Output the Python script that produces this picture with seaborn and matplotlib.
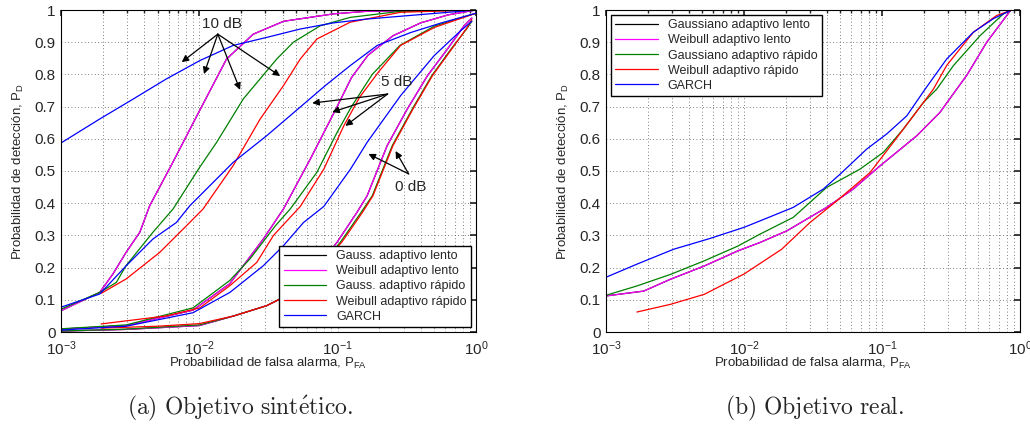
"""ROC curves: synthetic target (a) vs real target (b)"""

import numpy as np, pandas as pd
import matplotlib
matplotlib.use("Agg")
import matplotlib.pyplot as plt
from matplotlib.ticker import LogLocator, NullFormatter
import seaborn as sns

sns.set_theme(style="white")
plt.rcParams['font.family'] = ['Liberation Sans', 'DejaVu Sans']
plt.rcParams['mathtext.default'] = 'regular'

methods_a = ['Gauss. adaptivo lento', 'Weibull adaptivo lento', 'Gauss. adaptivo rápido',
             'Weibull adaptivo rápido', 'GARCH']
methods_b = ['Gaussiano adaptivo lento', 'Weibull adaptivo lento', 'Gaussiano adaptivo rápido',
             'Weibull adaptivo rápido', 'GARCH']
colors = ['#000000', '#ff00ff', '#008000', '#ff0000', '#0000ff']
yticklabels = ['0', '0.1', '0.2', '0.3', '0.4', '0.5', '0.6', '0.7', '0.8', '0.9', '1']

# (a) synthetic target -- log10(Pfa) and Pd, per SNR
lento_10_x = [-3, -2.72, -2.625, -2.53, -2.43, -2.359, -2.2, -2.0, -1.803, -1.61, -1.39, -1.03, -0.79, 0]
lento_10_y = [0.066, 0.123, 0.18, 0.247, 0.31, 0.392, 0.52, 0.686, 0.848, 0.925, 0.965, 0.988, 0.996, 1.0]
gr_10_x = [-3, -2.72, -2.6, -2.53, -2.335, -2.19, -2.0, -1.875, -1.682, -1.44, -1.32, -1.126, -0.91, -0.545, 0]
gr_10_y = [0.071, 0.123, 0.154, 0.206, 0.31, 0.382, 0.51, 0.589, 0.724, 0.848, 0.9, 0.951, 0.977, 0.996, 1.0]
wr_10_x = [-2.71, -2.528, -2.287, -2.093, -1.973, -1.755, -1.561, -1.392, -1.27, -1.15, -0.91, -0.545, 0]
wr_10_y = [0.12, 0.165, 0.247, 0.33, 0.382, 0.517, 0.661, 0.765, 0.848, 0.91, 0.962, 0.993, 1.0]
garch_10_x = [-3, -2.722, -2.48, -2.238, -1.996, -1.755, -1.512, -1.27, -1.03, -0.787, 0]
garch_10_y = [0.587, 0.661, 0.723, 0.786, 0.843, 0.89, 0.915, 0.941, 0.96, 0.972, 1.0]

lento_5_x = [-3, -2.528, -2.045, -1.78, -1.537, -1.392, -1.198, -1.004, -0.9, -0.78, -0.6, -0.4, -0.2, 0]
lento_5_y = [0.009, 0.02, 0.068, 0.15, 0.289, 0.382, 0.537, 0.70, 0.79, 0.86, 0.92, 0.96, 0.985, 1.0]
gr_5_x = [-3, -2.528, -2.045, -1.78, -1.634, -1.45, -1.343, -1.15, -1.004, -0.9, -0.75, -0.55, -0.3, 0]
gr_5_y = [0.01, 0.022, 0.075, 0.16, 0.227, 0.33, 0.382, 0.496, 0.62, 0.7, 0.8, 0.89, 0.95, 0.99]
wr_5_x = [-2.71, -2.238, -1.996, -1.779, -1.585, -1.464, -1.27, -1.1, -0.956, -0.84, -0.7, -0.545, -0.3, 0]
wr_5_y = [0.025, 0.05, 0.075, 0.144, 0.216, 0.3, 0.39, 0.506, 0.64, 0.73, 0.81, 0.89, 0.946, 0.99]
garch_5_x = [-3, -2.72, -2.528, -2.335, -2.166, -2.069, -1.755, -1.512, -1.343, -1.09, -0.91, -0.714, -0.472, -0.25, 0]
garch_5_y = [0.077, 0.118, 0.206, 0.289, 0.34, 0.392, 0.527, 0.61, 0.672, 0.765, 0.827, 0.89, 0.93, 0.96, 0.99]

lento_0_x = [-3, -2.528, -2.0, -1.75, -1.512, -1.392, -1.2, -1.004, -0.86, -0.787, -0.642, -0.496, -0.351, -0.206, -0.086, -0.03]
lento_0_y = [0.003, 0.008, 0.02, 0.05, 0.082, 0.108, 0.17, 0.279, 0.372, 0.423, 0.579, 0.693, 0.796, 0.879, 0.951, 0.975]
gr_0_x = [-3, -2.528, -2.0, -1.75, -1.512, -1.392, -1.2, -0.98, -0.83, -0.75, -0.605, -0.46, -0.32, -0.18, -0.07, -0.03]
gr_0_y = [0.003, 0.009, 0.022, 0.05, 0.082, 0.108, 0.17, 0.279, 0.372, 0.423, 0.579, 0.693, 0.796, 0.879, 0.94, 0.965]
wr_0_x = [-2.71, -2.3, -2.0, -1.75, -1.512, -1.392, -1.2, -0.97, -0.82, -0.745, -0.6, -0.455, -0.315, -0.175, -0.065, -0.03]
wr_0_y = [0.012, 0.018, 0.026, 0.05, 0.082, 0.108, 0.17, 0.279, 0.372, 0.423, 0.579, 0.693, 0.796, 0.879, 0.945, 0.97]
garch_0_x = [-3, -2.528, -2.045, -1.779, -1.537, -1.392, -1.247, -1.1, -0.907, -0.787, -0.545, -0.303, -0.11, -0.03]
garch_0_y = [0.006, 0.018, 0.06, 0.123, 0.206, 0.268, 0.34, 0.39, 0.506, 0.589, 0.734, 0.858, 0.936, 0.965]

# (b) real target
gl_b_x = [-3, -2.727, -2.532, -2.288, -2.044, -1.884, -1.69, -1.401, -1.208, -1.014, -0.749, -0.58, -0.459, -0.386, -0.241, -0.096, -0.07]
gl_b_y = [0.112, 0.127, 0.164, 0.205, 0.252, 0.278, 0.314, 0.387, 0.444, 0.516, 0.609, 0.682, 0.754, 0.797, 0.9, 0.983, 0.998]
gr_b_x = [-3, -2.776, -2.532, -2.288, -2.044, -1.884, -1.643, -1.401, -1.159, -0.99, -0.846, -0.7, -0.604, -0.483, -0.29, -0.121, -0.07]
gr_b_y = [0.114, 0.143, 0.179, 0.221, 0.267, 0.304, 0.356, 0.449, 0.506, 0.558, 0.63, 0.713, 0.754, 0.827, 0.92, 0.988, 0.998]
wr_b_x = [-2.776, -2.532, -2.288, -2.0, -1.727, -1.522, -1.328, -1.087, -0.918, -0.773, -0.628, -0.531, -0.338, -0.169, -0.07]
wr_b_y = [0.062, 0.086, 0.117, 0.18, 0.257, 0.34, 0.407, 0.495, 0.589, 0.671, 0.754, 0.828, 0.931, 0.983, 0.998]
garch_b_x = [-3, -2.78, -2.51, -2.25, -2.0, -1.884, -1.643, -1.425, -1.304, -1.111, -0.966, -0.821, -0.688, -0.531, -0.338, -0.193, -0.072]
garch_b_y = [0.17, 0.21, 0.257, 0.29, 0.325, 0.345, 0.387, 0.444, 0.49, 0.568, 0.615, 0.671, 0.754, 0.848, 0.931, 0.973, 0.998]

curves_a = {
    '10': [(lento_10_x, lento_10_y), (lento_10_x, lento_10_y), (gr_10_x, gr_10_y), (wr_10_x, wr_10_y), (garch_10_x, garch_10_y)],
    '5': [(lento_5_x, lento_5_y), (lento_5_x, lento_5_y), (gr_5_x, gr_5_y), (wr_5_x, wr_5_y), (garch_5_x, garch_5_y)],
    '0': [(lento_0_x, lento_0_y), (lento_0_x, lento_0_y), (gr_0_x, gr_0_y), (wr_0_x, wr_0_y), (garch_0_x, garch_0_y)],
}
curves_b = [(gl_b_x, gl_b_y), (gl_b_x, gl_b_y), (gr_b_x, gr_b_y), (wr_b_x, wr_b_y), (garch_b_x, garch_b_y)]


def to_frame(groups, names):
    rows = []
    for snr, lst in groups.items():
        for name, (lx, ly) in zip(names, lst):
            for a, b in zip(lx, ly):
                rows.append((name, snr, 10.0 ** a, b))
    return pd.DataFrame(rows, columns=['method', 'snr', 'pfa', 'pd'])


df_a = to_frame(curves_a, methods_a)
df_b = to_frame({'real': curves_b}, methods_b)

fig = plt.figure(figsize=(10.3, 4.36), dpi=100)
ax_a = fig.add_axes([61 / 1030, 104 / 436, 415 / 1030, 322 / 436])
ax_b = fig.add_axes([606 / 1030, 104 / 436, 414 / 1030, 322 / 436])

for ax, df, names in [(ax_a, df_a, methods_a), (ax_b, df_b, methods_b)]:
    sns.lineplot(data=df, x='pfa', y='pd', hue='method', units='snr', estimator=None,
                 hue_order=names, palette=dict(zip(names, colors)), lw=0.9, ax=ax)
    ax.set_xscale('log')
    ax.set_xlim(1e-3, 1)
    ax.set_ylim(0, 1)
    ax.set_yticks(np.linspace(0, 1, 11))
    ax.set_yticklabels(yticklabels)
    ax.xaxis.set_minor_locator(LogLocator(base=10, subs=np.arange(2, 10)))
    ax.xaxis.set_minor_formatter(NullFormatter())
    ax.grid(True, which='major', ls=(0, (1, 3)), color='#555555', lw=0.6)
    ax.grid(True, which='minor', axis='x', ls=(0, (1, 3)), color='#555555', lw=0.6)
    ax.tick_params(which='both', direction='in', top=True, right=True, labelsize=11)
    ax.tick_params(axis='x', pad=5)
    ax.tick_params(axis='y', pad=4)
    ax.tick_params(which='major', length=4)
    ax.tick_params(which='minor', length=2)
    for s in ax.spines.values():
        s.set_color('black')
        s.set_linewidth(0.8)
    ax.set_xlabel('Probabilidad de falsa alarma, P$_{FA}$', fontsize=9.5, labelpad=-1)
    ax.set_ylabel('Probabilidad de detección, P$_{D}$', fontsize=9.5, labelpad=6)

legend_kw = dict(fontsize=9, frameon=True, fancybox=False, framealpha=1, edgecolor='black',
                 handlelength=3.4, labelspacing=0.25, borderpad=0.35, borderaxespad=0.4)
h, l = ax_a.get_legend_handles_labels()
ax_a.legend(h, l, loc='lower right', **legend_kw).get_frame().set_linewidth(1.0)
h, l = ax_b.get_legend_handles_labels()
ax_b.legend(h, l, loc='upper left', **legend_kw).get_frame().set_linewidth(1.0)

# SNR annotations on (a)
arrow = dict(arrowstyle='-|>', color='black', lw=0.9, mutation_scale=10, shrinkA=0, shrinkB=0)
ax_a.text(0.0146, 0.957, '10 dB', ha='center', va='center', fontsize=11)
for end in [(0.00746, 0.838), (0.0108, 0.801), (0.0197, 0.752), (0.0384, 0.795)]:
    ax_a.annotate('', xy=end, xytext=(0.0136, 0.925), arrowprops=arrow)
ax_a.text(0.267, 0.776, '5 dB', ha='center', va='center', fontsize=11)
for end in [(0.0655, 0.711), (0.0914, 0.683), (0.1137, 0.64)]:
    ax_a.annotate('', xy=end, xytext=(0.2296, 0.739), arrowprops=arrow)
ax_a.text(0.337, 0.45, '0 dB', ha='center', va='center', fontsize=11)
for end in [(0.167, 0.553), (0.262, 0.562)]:
    ax_a.annotate('', xy=end, xytext=(0.326, 0.491), arrowprops=arrow)

plt.rcParams['mathtext.fontset'] = 'cm'
fig.text(240 / 1030, 1 - 408 / 436, r'$\mathrm{(a)\ Objetivo\ sint\acute{e}tico.}$', ha='center',
         va='center', fontsize=17)
fig.text(815 / 1030, 1 - 408 / 436, r'$\mathrm{(b)\ Objetivo\ real.}$', ha='center',
         va='center', fontsize=17)

fig.savefig('out.png', dpi=100)
